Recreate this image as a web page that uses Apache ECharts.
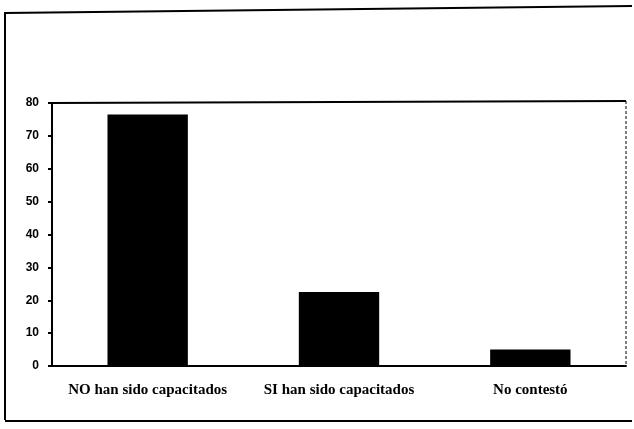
<!DOCTYPE html>
<html>
<head>
<meta charset="utf-8">
<script src="https://cdn.jsdelivr.net/npm/echarts@6/dist/echarts.min.js"></script>
<style>
html,body{margin:0;padding:0;background:#fff;}
#chart{width:634px;height:429px;}
</style>
</head>
<body>
<div id="chart"></div>
<script>
var categories = ['NO han sido capacitados', 'SI han sido capacitados', 'No contestó'];
var values = [76.5, 22.5, 5];
var yTicks = [0, 10, 20, 30, 40, 50, 60, 70, 80];

var myChart = echarts.init(document.getElementById('chart'));
var option = {
	backgroundColor: '#fff',
	animation: false,
	grid: { left: 52, right: 8, top: 103, bottom: 63 },
	xAxis: {
		type: 'category',
		data: categories,
		axisLine: { lineStyle: { color: '#000', width: 2 } },
		axisTick: { show: false },
		axisLabel: {
			interval: 0,
			color: '#000', fontFamily: 'Liberation Serif', fontWeight: 'bold',
			fontSize: 15, margin: 17
		}
	},
	yAxis: {
		type: 'value',
		min: yTicks[0],
		max: yTicks[yTicks.length - 1],
		interval: 10,
		axisLine: { show: true, lineStyle: { color: '#000', width: 2 } },
		axisTick: { show: true, length: 4, lineStyle: { color: '#000', width: 2 } },
		splitLine: { show: false },
		axisLabel: {
			color: '#000', fontFamily: 'Liberation Sans', fontWeight: 'bold',
			fontSize: 12, margin: 13
		}
	},
	series: [{
		type: 'bar',
		data: values,
		barWidth: '42%',
		itemStyle: { color: '#000' }
	}],
	graphic: [
		{ type: 'polyline', shape: { points: [[5, 420], [5, 13], [632, 6]] }, style: { stroke: '#000', lineWidth: 2, fill: null } },
		{ type: 'line', shape: { x1: 5, y1: 421, x2: 632, y2: 421 }, style: { stroke: '#000', lineWidth: 2 } },
		{ type: 'line', shape: { x1: 50, y1: 103, x2: 626, y2: 101 }, style: { stroke: '#000', lineWidth: 2 } },
		{ type: 'line', shape: { x1: 626, y1: 101, x2: 626, y2: 366 }, style: { stroke: '#000', lineWidth: 1, lineDash: [3, 2] } }
	]
};
myChart.setOption(option);
</script>
</body>
</html>
